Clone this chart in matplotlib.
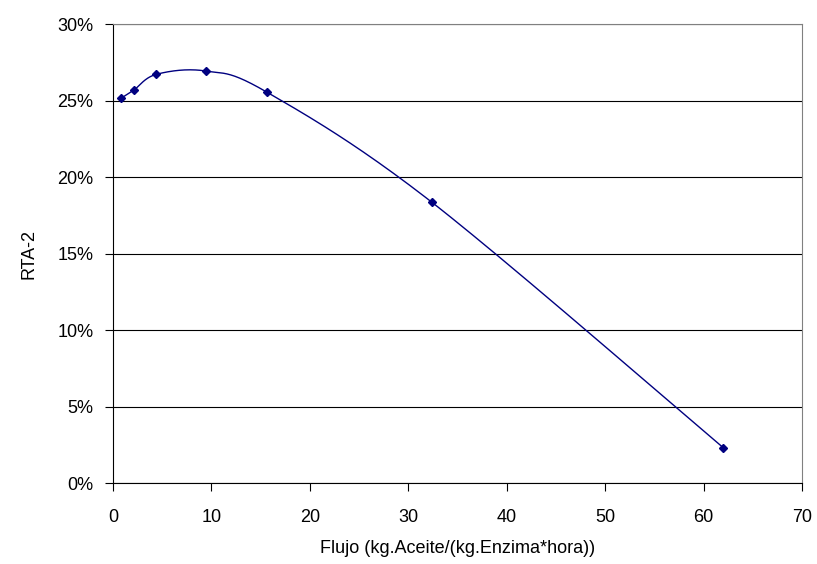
import matplotlib.pyplot as plt
import numpy as np
from matplotlib.ticker import PercentFormatter

# datos
flujo = [0.8, 2.1, 4.4, 9.4, 15.6, 32.4, 62.0]
rta2 = [0.2514, 0.2567, 0.2671, 0.2693, 0.2556, 0.1835, 0.0231]

plt.rcParams['font.family'] = ['Liberation Sans', 'DejaVu Sans']


def suavizar(x, y, n=40):
    # curva tipo Excel (Bezier por Catmull-Rom)
    p = np.column_stack([x, y])
    pts = [p[0]]
    for i in range(len(p) - 1):
        p0 = p[i - 1] if i > 0 else p[i]
        p1 = p[i]
        p2 = p[i + 1]
        p3 = p[i + 2] if i + 2 < len(p) else p[i + 1]
        c1 = p1 + (p2 - p0) / 6
        c2 = p2 - (p3 - p1) / 6
        t = np.linspace(0, 1, n)[1:, None]
        seg = ((1 - t) ** 3 * p1 + 3 * (1 - t) ** 2 * t * c1
               + 3 * (1 - t) * t ** 2 * c2 + t ** 3 * p2)
        pts.extend(seg)
    pts = np.array(pts)
    return pts[:, 0], pts[:, 1]


fig = plt.figure(figsize=(8.17, 5.64), dpi=100)
ax = fig.add_axes([0.1383, 0.1436, 0.8433, 0.8138])

xs, ys = suavizar(flujo, rta2)
ax.plot(xs, ys, color='#000080', lw=1.0)
ax.plot(flujo, rta2, ls='none', marker='D', ms=4, color='#000080')

ax.set_xlim(0, 70)
ax.set_ylim(0, 0.30)
ax.set_xticks(np.arange(0, 71, 10))
ax.set_yticks(np.arange(0, 0.301, 0.05))
ax.yaxis.set_major_formatter(PercentFormatter(1.0, decimals=0))

ax.grid(axis='y', color='black', lw=0.8)
ax.set_axisbelow(True)
for s in ['top', 'right']:
    ax.spines[s].set_color('#808080')
for s in ['left', 'bottom']:
    ax.spines[s].set_color('black')
ax.tick_params(direction='out', length=6, width=0.8, labelsize=13)
ax.tick_params(axis='x', pad=13)
ax.tick_params(axis='y', pad=8)

ax.set_xlabel('Flujo (kg.Aceite/(kg.Enzima*hora))', fontsize=13, labelpad=10)
ax.set_ylabel('RTA-2', fontsize=13, labelpad=14)

fig.savefig('out.png', dpi=100)
